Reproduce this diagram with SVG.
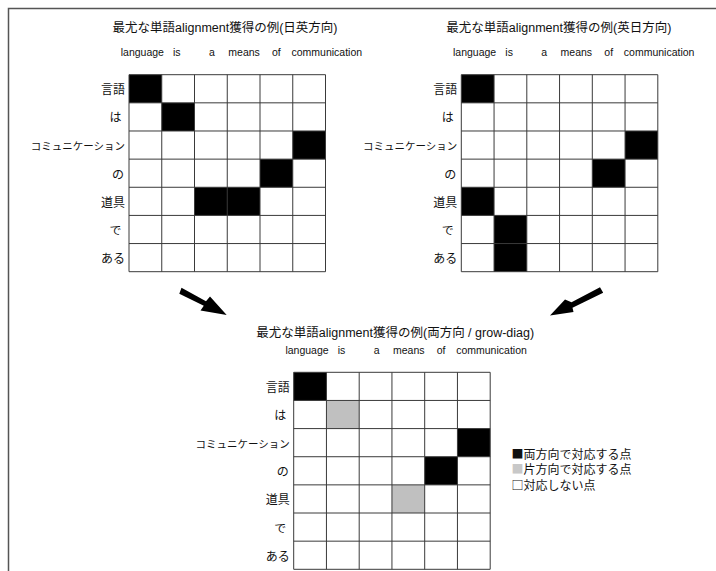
<svg xmlns="http://www.w3.org/2000/svg" xmlns:xlink="http://www.w3.org/1999/xlink" width="716" height="571" viewBox="0 0 716 571">
<style>
  text { font-family: "Liberation Sans", "Noto Sans CJK JP", sans-serif; fill: #111; }
  .title { font-size: 12.5px; text-anchor: middle; }
  .col { font-size: 10.5px; }
  .row { font-size: 12px; text-anchor: end; }
  .rowk { font-size: 10.5px; text-anchor: end; }
  .leg { font-size: 12px; font-family: "Noto Sans CJK JP", sans-serif; }
  .grid { fill: none; stroke: #3a3a3a; stroke-width: 1; }
  .on { fill: #000; }
  .half { fill: #c0c0c0; }
  .arrow { fill: #000; }
</style>
<defs>
  <g id="gridlines">
    <path class="grid" d="M0 0H196.5V197H0Z M32.75 0V197 M65.5 0V197 M98.25 0V197 M131 0V197 M163.75 0V197 M0 28.14H196.5 M0 56.29H196.5 M0 84.43H196.5 M0 112.57H196.5 M0 140.71H196.5 M0 168.86H196.5"/>
  </g>
  <g id="labels">
    <text class="col" x="-8.3" y="-18.5">language</text>
    <text class="col" x="44" y="-18.5">is</text>
    <text class="col" x="80" y="-18.5">a</text>
    <text class="col" x="99.3" y="-18.5">means</text>
    <text class="col" x="143" y="-18.5">of</text>
    <text class="col" x="162.5" y="-18.5">communication</text>
    <text class="row" x="-4" y="19.8">言語</text>
    <text class="row" x="-7.5" y="47.7">は</text>
    <text class="rowk" x="-4" y="75.5">コミュニケーション</text>
    <text class="row" x="-5" y="104">の</text>
    <text class="row" x="-4" y="132.1">道具</text>
    <text class="row" x="-7.5" y="160.3">で</text>
    <text class="row" x="-4" y="188.4">ある</text>
  </g>
</defs>

<path d="M716 8.5H8.5V571" fill="none" stroke="#555" stroke-width="1.5"/>

<g id="matrix-ja-en" transform="translate(129,74.7)">
  <text class="title" x="96" y="-42.7">最尤な単語alignment獲得の例(日英方向)</text>
  <rect class="on" x="0" y="0" width="32.75" height="28.14"/>
  <rect class="on" x="32.75" y="28.14" width="32.75" height="28.15"/>
  <rect class="on" x="163.75" y="56.29" width="32.75" height="28.14"/>
  <rect class="on" x="131" y="84.43" width="32.75" height="28.14"/>
  <rect class="on" x="65.5" y="112.57" width="65.5" height="28.14"/>
  <use xlink:href="#gridlines"/>
  <use xlink:href="#labels"/>
</g>

<g id="matrix-en-ja" transform="translate(461.3,74.7)">
  <text class="title" x="97.5" y="-42.7">最尤な単語alignment獲得の例(英日方向)</text>
  <rect class="on" x="0" y="0" width="32.75" height="28.14"/>
  <rect class="on" x="163.75" y="56.29" width="32.75" height="28.14"/>
  <rect class="on" x="131" y="84.43" width="32.75" height="28.14"/>
  <rect class="on" x="0" y="112.57" width="32.75" height="28.14"/>
  <rect class="on" x="32.75" y="140.71" width="32.75" height="56.29"/>
  <use xlink:href="#gridlines"/>
  <use xlink:href="#labels"/>
</g>

<g id="matrix-grow-diag" transform="translate(293.7,372.3)">
  <text class="title" x="101.5" y="-35.8">最尤な単語alignment獲得の例(両方向 / grow-diag)</text>
  <rect class="on" x="0" y="0" width="32.75" height="28.14"/>
  <rect class="half" x="32.75" y="28.14" width="32.75" height="28.15"/>
  <rect class="on" x="163.75" y="56.29" width="32.75" height="28.14"/>
  <rect class="on" x="131" y="84.43" width="32.75" height="28.14"/>
  <rect class="half" x="98.25" y="112.57" width="32.75" height="28.14"/>
  <use xlink:href="#gridlines"/>
  <use xlink:href="#labels"/>
</g>

<g id="legend">
  <text class="leg" x="511.5" y="458.5">■両方向で対応する点</text>
  <text class="leg" x="511.5" y="474"><tspan fill="#c8c8c8">■</tspan>片方向で対応する点</text>
  <text class="leg" x="511.5" y="489.5">□対応しない点</text>
</g>

<g id="connectors">
  <polygon class="arrow" points="181.5,287.8 206,301.3 210,296.5 226.7,315 200.5,310.5 203.8,305.8 179.3,293.7"/>
  <polygon class="arrow" points="600,287.3 571.5,302.3 565,299.5 550,315.5 573.5,312 572.5,307.7 603.2,292.7"/>
</g>
</svg>
